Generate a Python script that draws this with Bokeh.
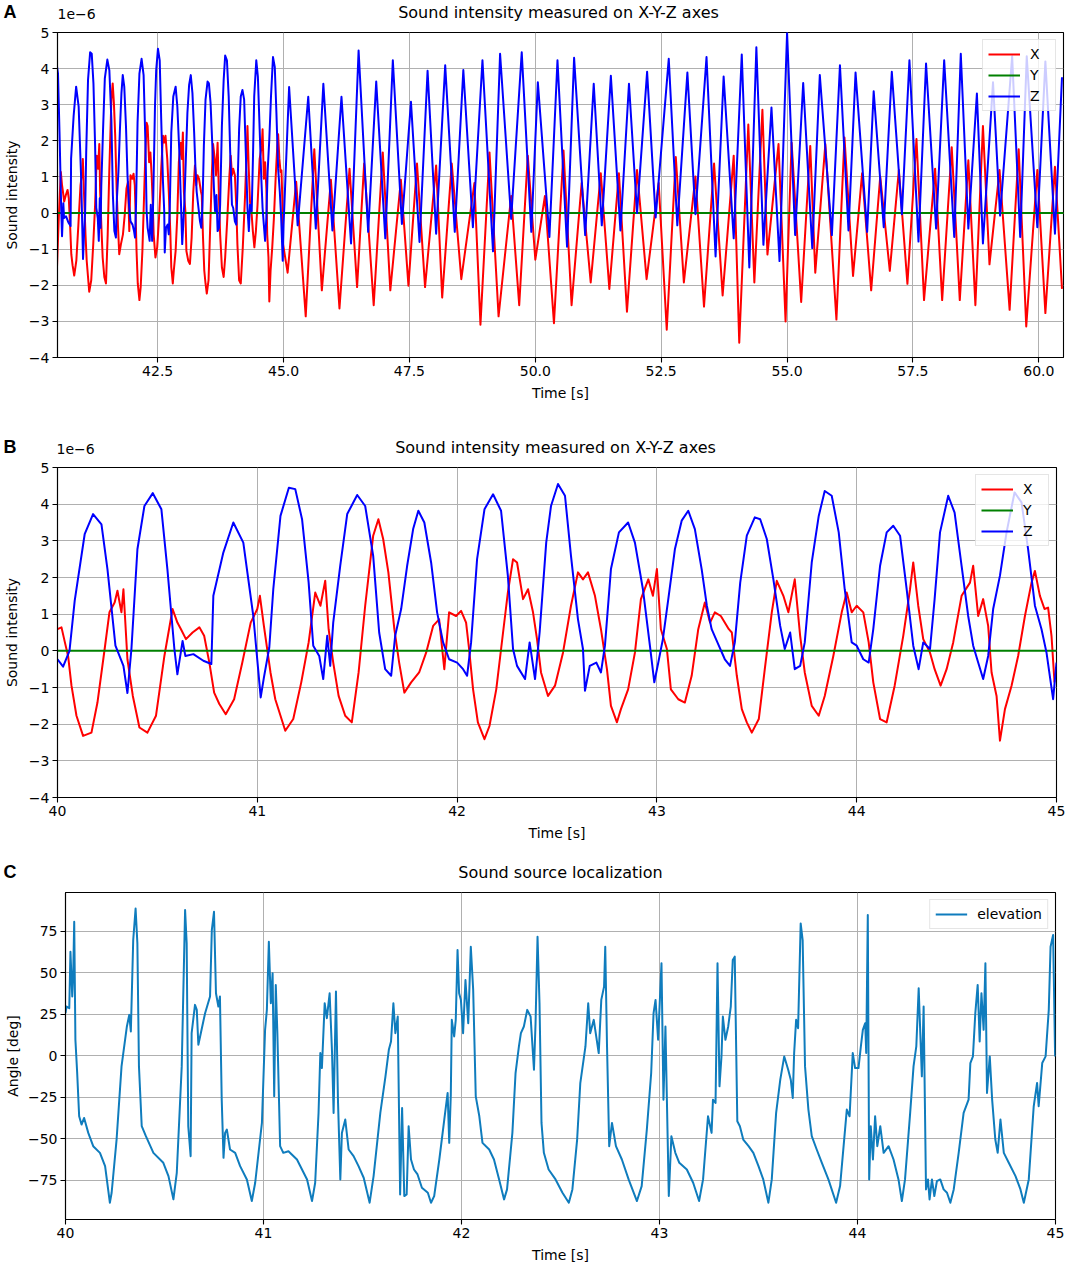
from bokeh.plotting import figure
from bokeh.models import Range1d, FixedTicker
from bokeh.embed import file_html
from bokeh.resources import INLINE
from bokeh.core.properties import value

# ---------------- Panel B (40-45 s, detailed) : Z and X, units of 1e-6 ----------------
zb_t = [40.0, 40.028, 40.06, 40.086, 40.136, 40.178, 40.22, 40.25, 40.29, 40.33, 40.35, 40.37, 40.40, 40.435,
        40.477, 40.52, 40.55, 40.585, 40.60, 40.626, 40.64, 40.68, 40.73, 40.77, 40.78, 40.83, 40.88, 40.93,
        40.98, 41.017, 41.033, 41.06, 41.08, 41.116, 41.158, 41.19, 41.224, 41.257, 41.28, 41.31, 41.33, 41.35,
        41.365, 41.38, 41.415, 41.45, 41.5, 41.54, 41.58, 41.61, 41.64, 41.67, 41.69, 41.72, 41.75, 41.78,
        41.806, 41.836, 41.87, 41.9, 41.93, 41.96, 42.0, 42.03, 42.05, 42.07, 42.1, 42.137, 42.18, 42.22,
        42.254, 42.28, 42.3, 42.34, 42.363, 42.39, 42.413, 42.446, 42.47, 42.505, 42.54, 42.57, 42.605, 42.63,
        42.64, 42.664, 42.697, 42.72, 42.74, 42.77, 42.81, 42.856, 42.89, 42.93, 42.965, 42.987, 43.007, 43.03,
        43.057, 43.09, 43.124, 43.157, 43.19, 43.224, 43.25, 43.274, 43.31, 43.34, 43.366, 43.39, 43.417, 43.45,
        43.49, 43.517, 43.55, 43.583, 43.617, 43.64, 43.667, 43.69, 43.717, 43.74, 43.775, 43.81, 43.84, 43.875,
        43.91, 43.94, 43.975, 44.0, 44.033, 44.06, 44.083, 44.117, 44.15, 44.183, 44.217, 44.25, 44.283, 44.31,
        44.333, 44.367, 44.39, 44.417, 44.458, 44.49, 44.525, 44.558, 44.583, 44.608, 44.633, 44.658, 44.683,
        44.717, 44.75, 44.79, 44.825, 44.858, 44.892, 44.925, 44.95, 44.983, 45.0]
zb_v = [-0.23, -0.43, 0.0, 1.36, 3.18, 3.73, 3.45, 2.23, 0.14, -0.41, -1.15, 0.05, 2.77, 3.95,
        4.3, 3.86, 2.23, 0.05, -0.64, 0.27, -0.14, -0.09, -0.27, -0.36, 1.5, 2.68, 3.5, 2.95,
        0.95, -1.27, -0.73, 0.09, 1.68, 3.68, 4.45, 4.41, 3.59, 1.86, 0.14, -0.14, -0.77, 0.41,
        -0.41, 0.77, 2.32, 3.73, 4.25, 3.95, 2.59, 0.5, -0.5, -0.68, 0.41, 1.14, 2.32, 3.32,
        3.82, 3.5, 2.41, 1.05, 0.23, -0.23, -0.32, -0.5, -0.68, 0.23, 2.5, 3.86, 4.27, 3.82,
        2.05, 0.05, -0.41, -0.77, 0.23, -0.77, 0.5, 2.95, 3.95, 4.55, 4.23, 2.59, 0.86, 0.05,
        -1.09, -0.41, -0.32, -0.59, 0.14, 2.23, 3.23, 3.5, 2.95, 1.68, 0.14, -0.86, -0.32, 0.32,
        1.41, 2.77, 3.55, 3.82, 3.32, 2.23, 1.23, 0.59, 0.14, -0.23, -0.41, 0.23, 1.86, 3.14,
        3.64, 3.59, 3.05, 1.95, 0.68, 0.05, 0.5, -0.5, -0.41, 0.23, 2.41, 3.68, 4.36, 4.23,
        3.23, 1.68, 0.23, 0.14, -0.23, -0.32, 0.59, 2.32, 3.23, 3.41, 3.14, 1.68, 0.14, -0.5,
        0.23, 0.05, 1.41, 3.23, 4.23, 3.77, 2.32, 0.95, 0.14, -0.32, -0.77, -0.14, 1.14,
        2.05, 3.23, 4.32, 4.05, 2.77, 1.23, 0.59, -0.05, -1.32, -0.32]

xb_t = [40.0, 40.02, 40.037, 40.053, 40.07, 40.095, 40.128, 40.17, 40.2, 40.236, 40.26, 40.286, 40.3, 40.32,
        40.33, 40.35, 40.377, 40.41, 40.45, 40.493, 40.535, 40.576, 40.6, 40.618, 40.643, 40.676, 40.71, 40.734,
        40.76, 40.784, 40.81, 40.842, 40.884, 40.925, 40.967, 41.0, 41.013, 41.033, 41.066, 41.09, 41.14, 41.18,
        41.22, 41.257, 41.29, 41.316, 41.34, 41.357, 41.38, 41.407, 41.44, 41.473, 41.507, 41.54, 41.58, 41.606,
        41.63, 41.656, 41.686, 41.71, 41.736, 41.77, 41.81, 41.845, 41.88, 41.91, 41.936, 41.96, 41.995, 42.02,
        42.045, 42.06, 42.08, 42.104, 42.137, 42.162, 42.196, 42.23, 42.254, 42.28, 42.3, 42.33, 42.355, 42.38,
        42.4, 42.42, 42.455, 42.49, 42.53, 42.57, 42.605, 42.63, 42.655, 42.69, 42.72, 42.75, 42.77, 42.8,
        42.82, 42.856, 42.89, 42.92, 42.957, 42.98, 43.0, 43.02, 43.05, 43.07, 43.107, 43.14, 43.174, 43.207,
        43.24, 43.266, 43.29, 43.32, 43.36, 43.375, 43.4, 43.425, 43.45, 43.475, 43.51, 43.54, 43.575, 43.6,
        43.633, 43.658, 43.69, 43.717, 43.74, 43.775, 43.81, 43.84, 43.883, 43.925, 43.95, 43.975, 44.0, 44.033,
        44.06, 44.083, 44.117, 44.15, 44.19, 44.233, 44.267, 44.283, 44.308, 44.333, 44.367, 44.39, 44.42, 44.45,
        44.483, 44.525, 44.567, 44.583, 44.608, 44.633, 44.658, 44.675, 44.7, 44.717, 44.742, 44.775, 44.808,
        44.842, 44.875, 44.892, 44.917, 44.94, 44.958, 44.975, 44.99]
xb_v = [0.59, 0.64, 0.23, -0.14, -0.95, -1.77, -2.32, -2.23, -1.41, 0.05, 1.05, 1.32, 1.64, 1.05,
        1.68, -0.23, -1.23, -2.09, -2.23, -1.77, -0.14, 1.14, 0.77, 0.59, 0.32, 0.5, 0.64, 0.41,
        -0.32, -1.14, -1.45, -1.73, -1.32, -0.32, 0.77, 1.14, 1.5, 0.68, -0.59, -1.32, -2.18, -1.86,
        -0.86, 0.23, 1.59, 1.23, 1.91, 0.59, -0.32, -1.23, -1.77, -1.95, -0.59, 1.23, 3.14, 3.59,
        3.05, 2.14, 0.59, -0.32, -1.14, -0.86, -0.59, -0.05, 0.68, 0.86, -0.5, 1.05, 0.95, 1.09,
        0.77, 0.05, -1.05, -1.95, -2.41, -2.05, -1.05, 0.5, 1.59, 2.5, 2.41, 1.41, 1.68, 1.05,
        0.32, -0.59, -1.23, -0.95, -0.05, 1.23, 2.14, 1.95, 2.14, 1.5, 0.59, -0.5, -1.5, -1.95,
        -1.59, -1.05, -0.05, 1.41, 1.95, 1.5, 2.23, 0.59, 0.05, -1.05, -1.32, -1.41, -0.68, 0.59,
        1.32, 0.77, 1.05, 0.95, 0.59, 0.5, -0.68, -1.59, -1.95, -2.23, -1.86, -0.5, 1.05, 1.91,
        1.5, 1.05, 1.95, 0.41, -0.59, -1.5, -1.77, -1.23, -0.14, 1.05, 1.59, 1.05, 1.23, 1.05,
        0.23, -0.86, -1.86, -1.95, -0.95, 0.41, 1.68, 2.41, 1.23, 0.32, -0.05, -0.5, -0.95, -0.5,
        0.23, 1.5, 1.86, 2.32, 0.95, 1.41, 0.68, -0.59, -1.23, -2.45, -1.59, -0.95, -0.14,
        0.95, 1.86, 2.18, 1.5, 1.14, 1.18, 0.41, -0.86]

# Y component: flat at zero for the whole record
y_t = [40.0, 60.6]
y_v = [0.0, 0.0]

# ---------------- Panel A beyond 45 s: extremes of each cycle ----------------
za_peak_t = [45.11, 45.49, 45.79, 46.15, 46.49, 46.84, 47.17, 47.53, 47.86, 48.21, 48.57, 48.95, 49.3, 49.73,
             50.05, 50.44, 50.77, 51.16, 51.5, 51.86, 52.22, 52.65, 53.02, 53.4, 53.74, 54.1, 54.39, 54.69,
             55.0, 55.32, 55.65, 56.05, 56.36, 56.72, 57.08, 57.43, 57.76, 58.12, 58.45, 58.77, 59.09, 59.47,
             59.76, 60.13, 60.46]
za_peak_v = [3.49, 3.22, 3.58, 3.22, 4.5, 3.64, 4.23, 3.08, 3.94, 4.09, 3.96, 4.23, 4.41, 4.45,
             3.62, 4.23, 4.3, 3.58, 3.8, 3.58, 3.91, 4.27, 3.89, 4.32, 3.78, 4.39, 4.59, 2.92,
             4.99, 3.6, 3.82, 4.09, 3.89, 3.37, 3.91, 4.23, 4.14, 4.23, 4.41, 3.31, 3.62, 4.34,
             4.34, 4.2, 3.76]
za_trough_t = [45.28, 45.64, 45.97, 46.34, 46.68, 47.02, 47.35, 47.7, 48.03, 48.4, 48.76, 49.16, 49.52, 49.92,
               50.28, 50.63, 50.99, 51.32, 51.69, 52.02, 52.39, 52.82, 53.18, 53.58, 53.94, 54.25, 54.53, 54.85,
               55.16, 55.5, 55.89, 56.22, 56.59, 56.92, 57.28, 57.61, 57.96, 58.32, 58.6, 58.89, 59.23, 59.63,
               59.97, 60.32]
za_trough_v = [-0.34, -0.43, -0.48, -0.84, -0.52, -0.7, -0.3, -0.8, -0.57, -0.52, -0.39, -1.06, -0.16, -0.52,
               -0.66, -0.93, -0.61, -0.34, -0.48, 0.0, -0.12, -0.34, -0.03, -1.2, -0.7, -1.51, -0.88, -1.33,
               -0.61, -0.97, -0.61, -0.48, -0.52, -0.39, -0.03, -0.79, -0.43, -0.66, -0.43, -0.84, -0.07, -0.66,
               -0.39, -0.57]

xa_trough_t = [45.08, 45.44, 45.76, 46.11, 46.46, 46.79, 47.12, 47.48, 47.81, 48.15, 48.53, 48.91, 49.27, 49.68,
               50.0, 50.37, 50.72, 51.1, 51.47, 51.82, 52.21, 52.61, 52.95, 53.35, 53.72, 54.05, 54.35, 54.61,
               54.97, 55.28, 55.56, 55.98, 56.31, 56.67, 57.04, 57.39, 57.72, 58.08, 58.43, 58.74, 59.02, 59.42,
               59.75, 60.13, 60.46]
xa_trough_v = [-1.65, -2.86, -2.14, -2.64, -2.05, -2.55, -2.14, -2.01, -2.05, -2.34, -1.83, -3.09, -2.86, -2.55,
               -1.29, -3.05, -2.55, -1.92, -2.1, -2.73, -1.83, -3.23, -1.92, -2.59, -2.28, -3.59, -1.92, -1.15,
               -3.0, -2.46, -1.65, -2.95, -1.74, -2.14, -1.6, -1.96, -2.41, -2.41, -2.41, -2.55, -1.42, -2.68,
               -3.14, -2.77, -2.1]
xa_peak_t = [45.25, 45.61, 45.94, 46.31, 46.6, 46.97, 47.33, 47.65, 48.03, 48.34, 48.79, 49.09, 49.52, 49.85,
             50.19, 50.56, 50.92, 51.3, 51.66, 52.02, 52.45, 52.79, 53.18, 53.55, 53.94, 54.23, 54.51, 54.83,
             55.09, 55.46, 55.76, 56.14, 56.49, 56.85, 57.22, 57.57, 57.94, 58.27, 58.6, 58.89, 59.22, 59.6,
             59.97, 60.32]
xa_peak_v = [0.87, 1.77, 0.92, 1.23, 1.37, 1.68, 0.92, 1.37, 1.32, 1.37, 0.83, 1.68, 0.47, 1.59,
             0.47, 1.73, 0.83, 1.1, 1.1, 1.19, 0.83, 1.55, 1.01, 1.37, 1.59, 2.45, 2.86, 1.91,
             1.95, 1.86, 1.91, 2.09, 1.1, 1.01, 1.19, 2.05, 1.23, 1.82, 1.46, 2.41, 1.19, 1.77,
             1.19, 1.28]

# ---------------- Panel C: elevation angle [deg] ----------------
elev_t = [40.0, 40.005, 40.019, 40.025, 40.034, 40.039, 40.044, 40.05, 40.059, 40.069, 40.081, 40.094, 40.115,
          40.14, 40.174, 40.2, 40.224, 40.233, 40.258, 40.283, 40.31, 40.322, 40.33, 40.342, 40.354, 40.363,
          40.371, 40.385, 40.406, 40.444, 40.494, 40.52, 40.545, 40.562, 40.587, 40.604, 40.612, 40.62, 40.632,
          40.637, 40.654, 40.663, 40.671, 40.696, 40.705, 40.73, 40.739, 40.75, 40.76, 40.772, 40.78, 40.789,
          40.798, 40.806, 40.815, 40.831, 40.857, 40.882, 40.916, 40.941, 40.958, 40.992, 41.008, 41.017, 41.027,
          41.037, 41.046, 41.054, 41.062, 41.07, 41.084, 41.1, 41.126, 41.169, 41.22, 41.245, 41.261, 41.278,
          41.287, 41.295, 41.309, 41.32, 41.334, 41.346, 41.354, 41.366, 41.376, 41.388, 41.396, 41.413, 41.43,
          41.455, 41.48, 41.506, 41.536, 41.556, 41.59, 41.616, 41.633, 41.644, 41.656, 41.666, 41.678, 41.69,
          41.7, 41.711, 41.723, 41.733, 41.745, 41.76, 41.778, 41.8, 41.83, 41.846, 41.862, 41.888, 41.913,
          41.93, 41.938, 41.946, 41.951, 41.963, 41.971, 41.98, 41.988, 41.997, 42.008, 42.02, 42.034, 42.047,
          42.059, 42.072, 42.09, 42.106, 42.14, 42.164, 42.19, 42.215, 42.23, 42.257, 42.273, 42.29, 42.3,
          42.315, 42.332, 42.349, 42.366, 42.374, 42.384, 42.394, 42.404, 42.416, 42.44, 42.475, 42.51, 42.542,
          42.56, 42.584, 42.6, 42.626, 42.64, 42.65, 42.668, 42.693, 42.706, 42.72, 42.726, 42.735, 42.746,
          42.76, 42.78, 42.81, 42.844, 42.886, 42.91, 42.936, 42.958, 42.97, 42.98, 42.993, 43.01, 43.02, 43.03,
          43.047, 43.06, 43.08, 43.1, 43.138, 43.17, 43.2, 43.22, 43.245, 43.263, 43.27, 43.283, 43.293,
          43.303, 43.313, 43.32, 43.333, 43.347, 43.36, 43.37, 43.38, 43.393, 43.406, 43.423, 43.45, 43.474,
          43.5, 43.524, 43.55, 43.567, 43.589, 43.61, 43.63, 43.65, 43.663, 43.673, 43.68, 43.69, 43.7, 43.713,
          43.723, 43.735, 43.752, 43.769, 43.794, 43.82, 43.853, 43.892, 43.912, 43.946, 43.96, 43.976, 43.988,
          44.005, 44.017, 44.027, 44.039, 44.044, 44.052, 44.059, 44.067, 44.078, 44.089, 44.1, 44.115, 44.132,
          44.157, 44.182, 44.207, 44.224, 44.24, 44.266, 44.283, 44.297, 44.309, 44.325, 44.334, 44.346,
          44.356, 44.364, 44.376, 44.388, 44.401, 44.418, 44.435, 44.452, 44.469, 44.486, 44.511, 44.536,
          44.561, 44.57, 44.583, 44.595, 44.607, 44.617, 44.626, 44.637, 44.646, 44.654, 44.668, 44.68, 44.696,
          44.708, 44.722, 44.739, 44.764, 44.798, 44.823, 44.84, 44.865, 44.89, 44.907, 44.915, 44.933, 44.95,
          44.966, 44.975, 44.988, 44.998]
elev_v = [25.6, 29.6, 28.6, 62.6, 35.6, 49.6, 80.6, 9.6, -10.4, -36.4, -41.4, -37.4, -46.4,
          -54.4, -58.4, -66.4, -88.4, -82.4, -50.4, -6.4, 17.6, 24.6, 14.6, 69.6, 88.6, 67.6,
          -6.4, -42.4, -48.4, -58.4, -64.4, -72.4, -86.4, -70.4, -6.4, 87.6, 67.6, -42.4, -60.4,
          13.6, 30.6, 27.6, 6.6, 20.6, 25.6, 35.6, 75.6, 86.6, 37.6, 29.6, 35.6, -26.4,
          -61.4, -46.4, -44.4, -56.4, -58.4, -66.4, -74.4, -87.4, -76.4, -40.4, 15.6, 27.6, 68.6,
          31.6, 49.6, -24.4, 42.6, 13.6, -54.4, -58.4, -57.4, -62.4, -74.4, -87.4, -76.4, -34.4,
          1.6, -7.4, 31.6, 22.6, 37.6, 2.6, -34.4, 38.6, -26.4, -74.4, -46.4, -38.4, -56.4,
          -60.4, -66.4, -73.4, -88.4, -72.4, -34.4, -12.4, 3.6, 8.6, 31.6, 13.6, 23.6, -83.4,
          -31.4, -84.4, -83.4, -42.4, -62.4, -68.4, -71.4, -79.4, -82.4, -88.4, -84.4, -62.4, -38.4,
          -22.4, -52.4, -23.4, 21.6, 11.6, 21.6, 63.6, 37.6, 33.6, 13.6, 45.6, 19.6, 65.6,
          39.6, -24.4, -36.4, -52.4, -56.4, -62.4, -74.4, -86.4, -80.4, -46.4, -10.4, 5.6, 13.6,
          17.6, 27.6, 23.6, -8.4, 19.6, 71.6, 31.6, -40.4, -58.4, -68.4, -74.4, -82.4, -88.4,
          -80.4, -50.4, -16.4, 5.6, 31.6, 13.6, 21.6, 1.6, 33.6, 41.6, 65.6, 5.6, -54.4,
          -40.4, -54.4, -62.4, -74.4, -87.4, -78.4, -44.4, -10.4, 25.6, 33.6, 9.6, 55.6, -26.4, 17.6,
          -84.4, -48.4, -58.4, -64.4, -68.4, -76.4, -87.4, -74.4, -36.4, -46.4, -26.4, -28.4, 55.6,
          -18.4, -0.4, 23.6, 9.6, 17.6, 29.6, 57.6, 59.6, -39.4, -42.4, -50.4, -54.4, -58.4,
          -66.4, -74.4, -88.4, -74.4, -34.4, -14.4, -0.4, -8.4, -14.4, -25.4, 1.6, 21.6, 16.6, 79.6,
          69.6, -6.4, -32.4, -48.4, -56.4, -64.4, -74.4, -88.4, -78.4, -32.4, -36.4, 1.6, -7.4,
          -7.4, 5.6, 15.6, 19.6, 1.6, 84.6, -74.4, -42.4, -62.4, -36.4, -54.4, -42.4, -58.4,
          -54.4, -62.4, -74.4, -87.4, -74.4, -34.4, -6.4, 5.6, 40.6, -12.4, 29.6, -80.4,
          -74.4, -86.4, -74.4, -84.4, -75.4, -74.4, -80.4, -82.4, -88.4, -80.4, -58.4, -34.4,
          -26.4, -4.4, -0.4, 25.6, 42.6, 8.6, 37.6, 15.6, 55.6, -22.4, -0.4, -26.4, -50.4,
          -58.4, -38.4, -58.4, -64.4, -72.4, -80.4, -88.4, -74.4, -30.4, -16.4, -30.4, -4.4, -0.4,
          27.6, 65.6, 72.6, -0.4]

# axis ticks
xticks_a = [42.5, 45.0, 47.5, 50.0, 52.5, 55.0, 57.5, 60.0]
xticks_bc = [40, 41, 42, 43, 44, 45]
yticks_ab = [-4, -3, -2, -1, 0, 1, 2, 3, 4, 5]
yticks_c = [-75, -50, -25, 0, 25, 50, 75]

TITLE_XYZ = "Sound intensity measured on X-Y-Z axes"
TITLE_LOC = "Sound source localization"
OFFSET_TXT = "1e\u22126"

FONT = "DejaVu Sans"
PAGE_W = 1065


def merge(t1, v1, t2, v2):
    pts = sorted(zip(t1 + t2, v1 + v2))
    return [p[0] for p in pts], [p[1] for p in pts]


def lab(v):
    return str(v).replace("-", "\u2212")


def header(h, letter, title, title_x, offset_x=None):
    """Thin strip (pixel coordinates, y downward) with the panel letter, the title and the offset text.
    Texts are placed by their vertical middle so that their full box stays inside the strip."""
    hd = figure(output_backend="svg", toolbar_location=None, title=None,
                x_range=Range1d(0, PAGE_W), y_range=Range1d(h, 0),
                frame_width=PAGE_W, frame_height=h, min_border=0,
                x_axis_type=None, y_axis_type=None)
    hd.outline_line_color = None
    hd.grid.visible = False
    hd.background_fill_color = "white"
    hd.border_fill_color = "white"
    hd.text(x=[3], y=[h - 10.8], text=[letter], text_font=value("Liberation Sans"),
            text_font_size=value("18px"), text_font_style="bold", text_color="black",
            text_align="left", text_baseline="middle")
    hd.text(x=[title_x], y=[h - 10.0], text=[title], text_font=value(FONT),
            text_font_size=value("16px"), text_color="black",
            text_align="center", text_baseline="middle")
    if offset_x is not None:
        hd.text(x=[offset_x], y=[h - 9.0], text=[OFFSET_TXT], text_font=value(FONT),
                text_font_size=value("14px"), text_color="black",
                text_align="left", text_baseline="middle")
    return hd


def make_fig(xr, yr, left, right, bottom, fw, fh, xticks, xfmt, yticks, ylabel, ylab_standoff):
    p = figure(output_backend="svg", toolbar_location=None, title=None,
               x_range=Range1d(*xr), y_range=Range1d(*yr),
               frame_width=fw, frame_height=fh,
               min_border_left=left, min_border_top=10, min_border_bottom=bottom, min_border_right=right,
               background_fill_color="white", border_fill_color="white")
    p.outline_line_color = "black"
    p.outline_line_width = 1.1
    p.outline_line_alpha = 1.0
    p.xaxis.ticker = FixedTicker(ticks=xticks)
    p.yaxis.ticker = FixedTicker(ticks=yticks)
    p.xaxis.major_label_overrides = {t: xfmt(t) for t in xticks}
    p.yaxis.major_label_overrides = {t: lab(t) for t in yticks}
    for ax in (p.xaxis, p.yaxis):
        ax.axis_line_color = "black"
        ax.axis_line_width = 1.1
        ax.major_tick_line_color = "black"
        ax.major_tick_line_width = 1.1
        ax.major_tick_out = 5
        ax.major_tick_in = 0
        ax.minor_tick_line_color = None
        ax.major_label_text_font = FONT
        ax.major_label_text_font_size = "14px"
        ax.major_label_text_color = "black"
        ax.axis_label_text_font = FONT
        ax.axis_label_text_font_size = "14px"
        ax.axis_label_text_font_style = "normal"
        ax.axis_label_text_color = "black"
        ax.major_label_standoff = 3
    p.xaxis.axis_label = "Time [s]"
    p.xaxis.axis_label_standoff = 6
    p.yaxis.axis_label = ylabel
    p.yaxis.axis_label_standoff = ylab_standoff
    p.grid.grid_line_color = "#b0b0b0"
    p.grid.grid_line_width = 1.0
    return p


def style_legend(p):
    lg = p.legend[0]
    lg.location = "top_right"
    lg.margin = 7
    lg.padding = 5
    lg.spacing = 3
    lg.glyph_width = 32
    lg.glyph_height = 18
    lg.label_standoff = 10
    lg.label_text_font = FONT
    lg.label_text_font_size = "14px"
    lg.label_text_color = "black"
    lg.border_line_color = "#cccccc"
    lg.border_line_width = 1
    lg.background_fill_color = "white"
    lg.background_fill_alpha = 0.8


# ---------- Panel A ----------
za_t, za_v = merge(za_peak_t, za_peak_v, za_trough_t, za_trough_v)
xa_t, xa_v = merge(xa_trough_t, xa_trough_v, xa_peak_t, xa_peak_v)
zA_t = zb_t + za_t
zA_v = zb_v + za_v
xA_t = xb_t + xa_t
xA_v = xb_v + xa_v

ha = header(22, "A", TITLE_XYZ, 558, 57)
pa = make_fig((40.51, 60.49), (-4, 5), 57, 2, 52, 1006, 325, xticks_a, lambda t: "%.1f" % t,
              yticks_ab, "Sound intensity", 6)
pa.line(xA_t, xA_v, line_color="#ff0000", line_width=2, line_join="round", legend_label="X")
pa.line(y_t, y_v, line_color="#008000", line_width=2, legend_label="Y")
pa.line(zA_t, zA_v, line_color="#0000ff", line_width=2, line_join="round", legend_label="Z")
style_legend(pa)

# ---------- Panel B ----------
hb = header(48, "B", TITLE_XYZ, 555, 56)
pb = make_fig((40, 45), (-4, 5), 56, 10, 52, 999, 330, xticks_bc, lambda t: str(t),
              yticks_ab, "Sound intensity", 6)
pb.line(xb_t, xb_v, line_color="#ff0000", line_width=2, line_join="round", legend_label="X")
pb.line(y_t, y_v, line_color="#008000", line_width=2, legend_label="Y")
pb.line(zb_t, zb_v, line_color="#0000ff", line_width=2, line_join="round", legend_label="Z")
style_legend(pb)

# ---------- Panel C ----------
hc = header(33, "C", TITLE_LOC, 560)
pc = make_fig((40, 45), (-98.5, 98.2), 65, 10, 46, 990, 327, xticks_bc, lambda t: str(t),
              yticks_c, "Angle [deg]", 4)
pc.line(elev_t, elev_v, line_color="#0f7cbd", line_width=2, line_join="round", legend_label="elevation")
style_legend(pc)

open("out.html", "w").write(file_html([ha, pa, hb, pb, hc, pc], INLINE))
